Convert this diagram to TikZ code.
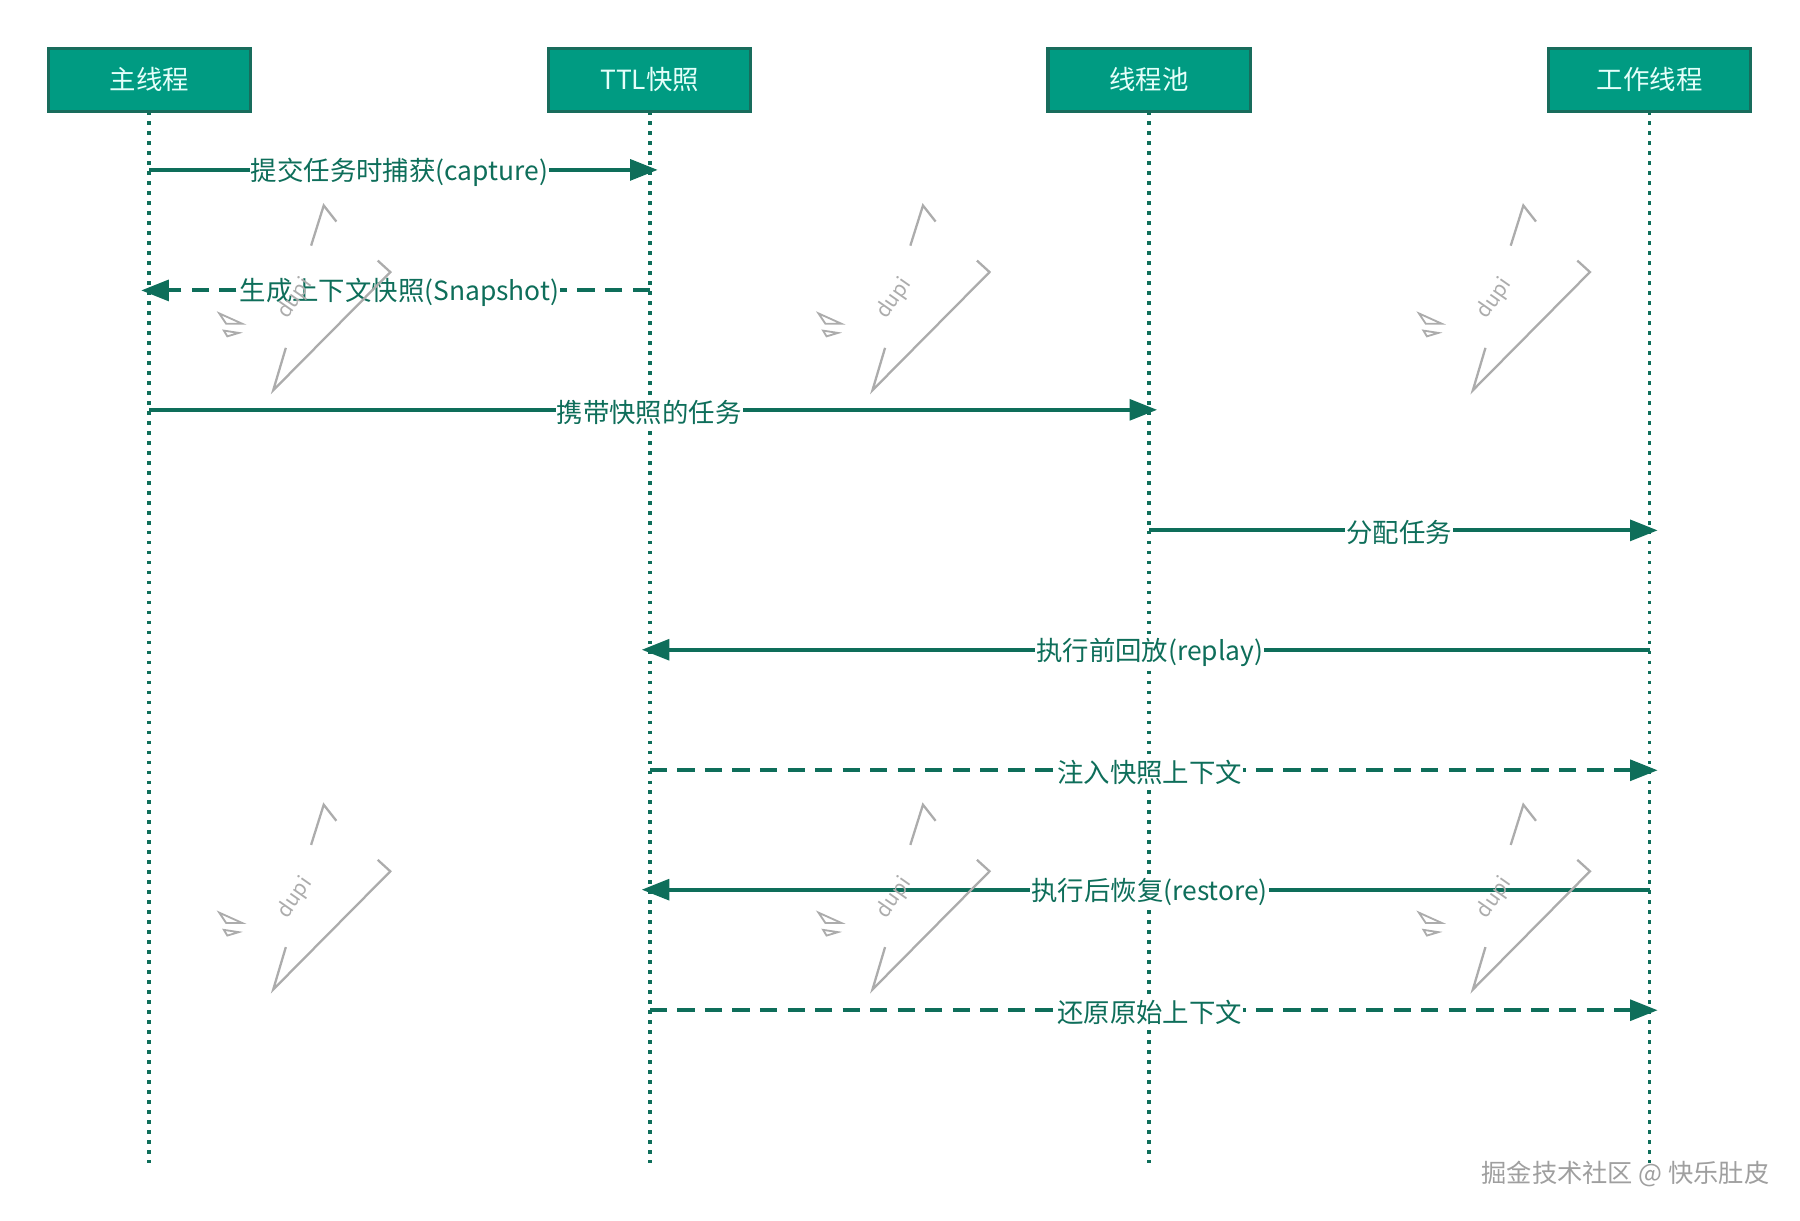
\documentclass[tikz,border=0pt]{standalone}
\usepackage{fontspec}
\setmainfont{Noto Sans CJK SC}
\usetikzlibrary{arrows.meta}
\definecolor{boxfill}{RGB}{0,155,130}
\definecolor{boxline}{RGB}{24,108,92}
\definecolor{msgcol}{RGB}{14,110,90}
\definecolor{boxtext}{RGB}{228,255,250}
\definecolor{wmark}{RGB}{172,172,172}
\tikzset{
    actor/.style={draw=boxline, line width=2.8pt, fill=boxfill, text=boxtext, minimum width=176pt, minimum height=55pt, inner sep=0pt, font=\fontsize{23}{27}\selectfont},
    life/.style={draw=msgcol, line width=3.2pt, dash pattern=on 3.2pt off 5.5pt},
    call/.style={draw=msgcol, line width=3.4pt, -{Triangle[length=24pt,width=18pt]}, shorten >=-7pt},
    reply/.style={call, dash pattern=on 15pt off 9pt},
    lbl/.style={fill=white, text=msgcol, inner sep=1pt, yshift=-2pt, font=\fontsize{23}{26}\selectfont},
    wm/.style={draw=wmark, line width=2pt},
}
\begin{document}
\begin{tikzpicture}[x=1pt, y=-1pt]
    \useasboundingbox (0,0) rectangle (1568,1063);
    % partecipanti
    \foreach \n/\x/\t in {main/130/主线程, ttl/566/TTL快照, pool/1001/线程池, work/1437/工作线程} {
        \coordinate (\n-end) at (\x,1013);
        \draw[life] (\x,97) -- (\n-end);
        \node[actor] (\n) at (\x,69.5) {\t};
    }
    % messaggi
    \foreach \a/\b/\y/\s/\t [count=\i] in {main/ttl/148/call/{提交任务时捕获(capture)}, ttl/main/253/reply/{生成上下文快照(Snapshot)}, main/pool/357/call/{携带快照的任务}, pool/work/462/call/{分配任务}, work/ttl/566/call/{执行前回放(replay)}, ttl/work/671/reply/{注入快照上下文}, work/ttl/775/call/{执行后恢复(restore)}, ttl/work/880/reply/{还原原始上下文}} {
        \coordinate (row\i) at (0,\y);
        \draw[\s] (\a |- row\i) -- node[lbl] (msg\i) {\t} (\b |- row\i);
    }
    % filigrana
    \foreach \dx in {0,522,1045} {
        \foreach \dy in {0,522} {
            \begin{scope}[shift={(\dx,\dy)}]
                \draw[wm] (271,214) -- (282,179) -- (293,193);
                \draw[wm] (329,227) -- (340,237) -- (238,340) -- (249,303);
                \draw[wm, line width=1.6pt] (191,273) -- (211,282) -- (197,282) -- cycle;
                \draw[wm, line width=1.6pt] (195,288) -- (208,290) -- (198,293) -- cycle;
                \node[text=wmark, rotate=55, font=\fontsize{18}{20}\selectfont] (dupi-\dx-\dy) at (257,260) {dupi};
            \end{scope}
        }
    }
    \node[text=gray!75, font=\fontsize{22}{26}\selectfont] (credit) at (1416,1023) {掘金技术社区 @ 快乐肚皮};
\end{tikzpicture}
\end{document}
